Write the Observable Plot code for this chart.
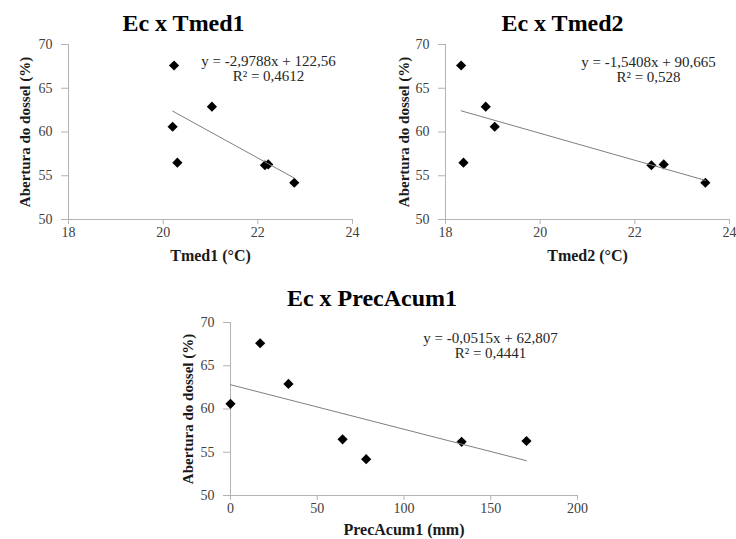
<!DOCTYPE html>
<html>
<head>
<meta charset="utf-8">
<script src="https://cdn.jsdelivr.net/npm/d3@7"></script>
<script src="https://cdn.jsdelivr.net/npm/@observablehq/plot@0.6"></script>
<style>
  body { margin: 0; background: #fff; }
  #chart { position: relative; width: 736px; height: 539px; overflow: hidden; }
  #chart svg { position: absolute; }
</style>
</head>
<body>
<div id="chart"></div>
<script>
// Canopy openness (Abertura do dossel, %) for the 7 observations
const abertura = [67.6, 62.9, 60.6, 56.5, 56.2, 56.3, 54.2];
// Explanatory variables (same order as abertura)
const tmed1 = [20.23, 21.03, 20.2, 20.3, 22.15, 22.22, 22.77];
const tmed2 = [18.33, 18.85, 19.04, 18.38, 22.35, 22.61, 23.49];
const precAcum1 = [17.1, 33.4, 0, 64.6, 133.2, 170.6, 78.2];

const titles = ["Ec x Tmed1", "Ec x Tmed2", "Ec x PrecAcum1"];
const xLabels = ["Tmed1 (°C)", "Tmed2 (°C)", "PrecAcum1 (mm)"];
const yLabel = "Abertura do dossel (%)";
const equations = ["y = -2,9788x + 122,56", "y = -1,5408x + 90,665", "y = -0,0515x + 62,807"];
const r2Labels = ["R² = 0,4612", "R² = 0,528", "R² = 0,4441"];
const slopes = [-2.9788, -1.5408, -0.0515];
const intercepts = [122.56, 90.665, 62.807];
const xTicks = [[18, 20, 22, 24], [18, 20, 22, 24], [0, 50, 100, 150, 200]];
const yTicks = [50, 55, 60, 65, 70];

const axisGray = "#b3b3b3";
const font = "'Liberation Serif', 'Times New Roman', serif";

function panel(i, xs, box) {
  const data = xs.map((x, k) => ({x, y: abertura[k]}));
  const ext = d3.extent(xs);
  const trend = ext.map(x => ({x, y: slopes[i] * x + intercepts[i]}));
  const xt = xTicks[i];
  const svg = Plot.plot({
    width: box.width,
    height: box.height,
    marginLeft: box.ml,
    marginRight: box.mr,
    marginTop: box.mt,
    marginBottom: box.mb,
    style: {fontFamily: font, fontSize: "14px", color: "#404040", background: "transparent", overflow: "visible"},
    x: {domain: [xt[0], xt[xt.length - 1]], label: null},
    y: {domain: [yTicks[0], yTicks[yTicks.length - 1]], label: null},
    marks: [
      Plot.ruleY([yTicks[0]], {stroke: axisGray}),
      Plot.ruleX([xt[0]], {stroke: axisGray}),
      Plot.axisX({ticks: xt, tickFormat: d => String(d), tickSize: 5, tickPadding: 3, stroke: axisGray, label: null, fontSize: 14}),
      Plot.axisY({ticks: yTicks, tickFormat: d => String(d), tickSize: 7, tickPadding: 9, stroke: axisGray, label: null, fontSize: 14}),
      Plot.dot(data, {x: "x", y: "y", symbol: "diamond2", r: 4.6, fill: "black", stroke: "none"}),
      Plot.line(trend, {x: "x", y: "y", stroke: "#7f7f7f", strokeWidth: 1}),
      Plot.text([equations[i] + "\n" + r2Labels[i]], {
        frameAnchor: "top-right", textAnchor: "middle", lineAnchor: "top",
        dx: box.eqDx, dy: box.eqDy, fontSize: 15, lineHeight: 1.0, fill: "#262626"
      }),
      Plot.text([titles[i]], {
        frameAnchor: "top", textAnchor: "middle", lineAnchor: "middle",
        dx: box.tDx, dy: box.tDy, fontSize: 24, fontWeight: "bold", fill: "black"
      }),
      Plot.text([xLabels[i]], {
        frameAnchor: "bottom", textAnchor: "middle", lineAnchor: "middle",
        dy: box.xlDy, fontSize: box.xlSize, fontWeight: "bold", fill: "#1a1a1a"
      }),
      Plot.text([yLabel], {
        frameAnchor: "left", textAnchor: "middle", lineAnchor: "middle", rotate: -90,
        dx: box.ylDx, fontSize: 15, fontWeight: "bold", fill: "#1a1a1a"
      })
    ]
  });
  svg.style.left = box.left + "px";
  svg.style.top = box.top + "px";
  return svg;
}

const chart = document.getElementById("chart");
chart.appendChild(panel(0, tmed1, {left: 0, top: 0, width: 368, height: 263, ml: 68, mr: 16, mt: 44, mb: 44,
  eqDx: -84, eqDy: 11, tDx: -27, tDy: -21, xlDy: 36, xlSize: 16, ylDx: -43}));
chart.appendChild(panel(1, tmed2, {left: 368, top: 0, width: 368, height: 263, ml: 77, mr: 7, mt: 44, mb: 44,
  eqDx: -81, eqDy: 12, tDx: -25, tDy: -21, xlDy: 36, xlSize: 16, ylDx: -41}));
chart.appendChild(panel(2, precAcum1, {left: 150, top: 262, width: 450, height: 277, ml: 80, mr: 23, mt: 60, mb: 44,
  eqDx: -87, eqDy: 10, tDx: -32, tDy: -24, xlDy: 34, xlSize: 16, ylDx: -42}));
</script>
</body>
</html>
